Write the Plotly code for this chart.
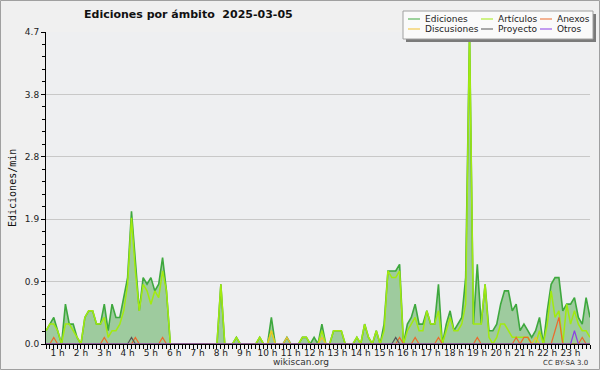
import plotly.graph_objects as go

# ---------------- data (10-minute steps, 00:30 .. 23:50, edits/min) ----------------
minutes = list(range(30, 24 * 60, 10))
times_h = [m / 60 for m in minutes]

ediciones = [
    0.2, 0.3, 0.4,                      # 00:30-00:50
    0.2, 0.0, 0.6, 0.3, 0.3, 0.1,       # 1 h
    0.0, 0.4, 0.5, 0.5, 0.3, 0.3,       # 2 h
    0.6, 0.2, 0.6, 0.4, 0.4, 0.7,       # 3 h
    1.0, 2.0, 1.3, 0.5, 1.0, 0.9,       # 4 h
    1.0, 0.8, 0.9, 1.3, 0.8, 0.0,       # 5 h
    0, 0, 0, 0, 0, 0,                   # 6 h
    0, 0, 0, 0, 0, 0,                   # 7 h
    0.9, 0, 0, 0, 0.1, 0,               # 8 h
    0, 0, 0, 0, 0.1, 0,                 # 9 h
    0, 0.4, 0, 0, 0, 0.1,               # 10 h
    0, 0, 0, 0.1, 0.1, 0,               # 11 h
    0.1, 0, 0.3, 0, 0, 0.2,             # 12 h
    0.2, 0.2, 0, 0, 0, 0.1,             # 13 h
    0, 0.3, 0.1, 0, 0.2, 0,             # 14 h
    0.3, 1.1, 1.1, 1.1, 1.2, 0,         # 15 h
    0.3, 0.4, 0.6, 0.3, 0.3, 0.5,       # 16 h
    0.3, 0.3, 0.9, 0, 0.3, 0.5,         # 17 h
    0.2, 0.3, 0.4, 1.0, 4.7, 0.3,       # 18 h
    1.2, 0.3, 0.9, 0.2, 0.2, 0.3,       # 19 h
    0.6, 0.8, 0.8, 0.5, 0.6, 0.2,       # 20 h
    0.3, 0.2, 0.1, 0.2, 0.4, 0.0,       # 21 h
    0.5, 0.9, 1.0, 1.0, 0.5, 0.6,       # 22 h
    0.6, 0.7, 0.4, 0.3, 0.7, 0.4,       # 23 h
]

articulos = [
    0.2, 0.3, 0.3,
    0.2, 0, 0.3, 0.3, 0.2, 0.1,
    0, 0.4, 0.5, 0.5, 0.3, 0.3,
    0.4, 0.1, 0.2, 0.2, 0.3, 0.5,
    0.9, 1.9, 1.1, 0.5, 0.9, 0.8,
    0.6, 0.8, 0.7, 1.1, 0.8, 0,
    0, 0, 0, 0, 0, 0,
    0, 0, 0, 0, 0, 0,
    0.9, 0, 0, 0, 0.1, 0,
    0, 0, 0, 0, 0.1, 0,
    0, 0.2, 0, 0, 0, 0,
    0, 0, 0, 0.1, 0.1, 0,
    0, 0, 0.2, 0, 0, 0.2,
    0.2, 0.2, 0, 0, 0, 0.1,
    0, 0.3, 0.1, 0, 0.2, 0,
    0.2, 1.1, 1.0, 1.0, 1.1, 0,
    0.2, 0.3, 0.4, 0.2, 0.2, 0.5,
    0.3, 0.3, 0.5, 0, 0.2, 0.4,
    0.2, 0.2, 0.3, 0.6, 4.7, 0.3,
    0.3, 0.3, 0.9, 0.1, 0, 0.1,
    0.3, 0.3, 0.2, 0.1, 0.1, 0.1,
    0.1, 0.1, 0, 0, 0.2, 0,
    0.3, 0.8, 0.4, 0.5, 0, 0.6,
    0.3, 0.5, 0.3, 0.2, 0.2, 0.1,
]

anexos = [
    0, 0, 0.1,
    0, 0, 0, 0, 0, 0,
    0, 0, 0, 0, 0, 0,
    0.1, 0, 0, 0, 0, 0,
    0, 0, 0.1, 0, 0, 0,
    0, 0, 0, 0.1, 0, 0,
    0, 0, 0, 0, 0, 0,
    0, 0, 0, 0, 0, 0,
    0, 0, 0, 0, 0, 0,
    0, 0, 0, 0, 0, 0,
    0, 0, 0, 0, 0, 0,
    0, 0, 0, 0, 0, 0,
    0, 0, 0, 0, 0, 0,
    0, 0, 0, 0, 0, 0,
    0, 0, 0, 0, 0, 0,
    0, 0, 0, 0, 0.1, 0,
    0, 0, 0.1, 0, 0, 0,
    0, 0, 0.1, 0, 0, 0,
    0, 0, 0, 0, 0, 0,
    0.1, 0, 0, 0, 0, 0,
    0, 0, 0, 0, 0.1, 0,
    0.1, 0.1, 0, 0, 0, 0,
    0, 0, 0.2, 0.4, 0, 0,
    0, 0, 0, 0.1, 0, 0,
]

discusiones = [0] * 3 + [0] * 54 + [
    0, 0.2, 0, 0, 0, 0.1,               # 10 h
    0, 0, 0, 0, 0, 0,                   # 11 h
    0, 0, 0.1, 0, 0, 0,                 # 12 h
] + [0] * 48 + [
    0, 0, 0, 0.1, 0, 0,                 # 21 h
] + [0] * 12

proyecto = [0] * 3 + [0] * 18 + [
    0, 0.1, 0, 0, 0, 0,                 # 4 h
] + [0] * 60 + [
    0, 0, 0, 0.1, 0, 0,                 # 15 h
] + [0] * 48

otros = [0] * 3 + [0] * 132 + [
    0, 0.2, 0, 0, 0, 0,                 # 23 h
]

y_tick_vals = [0, 0.94, 1.88, 2.82, 3.76, 4.7]
y_tick_text = ["0.0", "0.9", "1.9", "2.8", "3.8", "4.7"]

series = [
    ("Ediciones", ediciones, "#3ea83e"),
    ("Artículos", articulos, "#a2ea10"),
    ("Anexos", anexos, "#ec6a2c"),
    ("Discusiones", discusiones, "#f2c12e"),
    ("Proyecto", proyecto, "#555555"),
    ("Otros", otros, "#8a3ee6"),
]

# ---------------- figure ----------------
W, H = 600, 370
L, R, T, B = 46, 10, 32, 26
PW, PH = W - L - R, H - T - B


def px(x):
    return (x - L) / PW


def py(y):
    return (H - B - y) / PH


fig = go.Figure()

fig.add_trace(go.Scatter(
    x=times_h, y=ediciones, name="Ediciones", mode="lines",
    line=dict(color="#3ea83e", width=1.6), fill="tozeroy",
    fillcolor="#9ecb9e", showlegend=False, hoverinfo="skip"))
fig.add_trace(go.Scatter(
    x=times_h, y=articulos, name="Artículos", mode="lines",
    line=dict(color="#a2ea10", width=1.5), showlegend=False, hoverinfo="skip"))
for name, vals, col in series[2:]:
    fig.add_trace(go.Scatter(
        x=times_h, y=vals, name=name, mode="lines",
        line=dict(color=col, width=1.2), showlegend=False, hoverinfo="skip"))

x_ticks = times_h
x_text = [f"{m // 60} h" if m % 60 == 0 else "" for m in minutes]

minor_y = [i * 0.188 for i in range(26) if i % 5 != 0]

fig.update_layout(
    width=W, height=H,
    margin=dict(l=L, r=R, t=T, b=B),
    paper_bgcolor="#f0f0f0",
    plot_bgcolor="#eeeff1",
    font=dict(family="DejaVu Sans", size=9, color="#222"),
    xaxis=dict(
        range=[times_h[0], times_h[-1]],
        tickmode="array", tickvals=x_ticks, ticktext=x_text,
        ticks="outside", ticklen=4, tickcolor="#000", tickwidth=1,
        ticklabelstandoff=-4,
        showline=True, linecolor="#000", linewidth=1,
        showgrid=False, zeroline=False,
        tickfont=dict(family="DejaVu Sans", size=9, color="#222"),
    ),
    yaxis=dict(
        range=[0, 4.7],
        tickmode="array", tickvals=y_tick_vals, ticktext=y_tick_text,
        ticks="outside", ticklen=4, tickcolor="#000",
        showline=True, linecolor="#000", linewidth=1,
        showgrid=True, gridcolor="#c8c8c8", gridwidth=1, zeroline=False,
        tickfont=dict(family="DejaVu Sans", size=9, color="#222"),
        minor=dict(tickmode="array", tickvals=minor_y, ticks="outside",
                   ticklen=3, tickcolor="#000", showgrid=False),
    ),
)

shapes = []
# outer frame
shapes.append(dict(type="rect", xref="paper", yref="paper",
                   x0=px(0.5), x1=px(599.5), y0=py(0.5), y1=py(369.5),
                   line=dict(color="#a0a0a0", width=1), fillcolor="rgba(0,0,0,0)",
                   layer="below"))
# legend shadow + box
shapes.append(dict(type="rect", xref="paper", yref="paper",
                   x0=px(406), x1=px(596), y0=py(14), y1=py(42),
                   line=dict(width=0), fillcolor="#7a7a7a"))
shapes.append(dict(type="rect", xref="paper", yref="paper",
                   x0=px(403), x1=px(593), y0=py(11), y1=py(39),
                   line=dict(color="#a0a0a0", width=1), fillcolor="#fafafa"))

annotations = []
legend_pos = {
    "Ediciones": (408, 19), "Artículos": (481, 19), "Anexos": (540, 19),
    "Discusiones": (408, 29), "Proyecto": (481, 29), "Otros": (540, 29),
}
for name, vals, col in series:
    lx, ly = legend_pos[name]
    shapes.append(dict(type="line", xref="paper", yref="paper",
                       x0=px(lx), x1=px(lx + 12), y0=py(ly), y1=py(ly),
                       line=dict(color=col, width=1)))
    annotations.append(dict(text=name, xref="paper", yref="paper",
                            x=px(lx + 15), y=py(ly), xanchor="left", yanchor="middle",
                            showarrow=False,
                            font=dict(family="DejaVu Sans", size=9, color="#222")))

annotations += [
    dict(text="<b>Ediciones por ámbito \u00a02025-03-05</b>", xref="paper", yref="paper",
         x=px(188), y=py(15), xanchor="center", yanchor="middle", showarrow=False,
         font=dict(family="DejaVu Sans", size=11, color="#111")),
    dict(text="Ediciones/min", xref="paper", yref="paper", textangle=-90,
         x=px(12), y=py(188), xanchor="center", yanchor="middle", showarrow=False,
         font=dict(family="DejaVu Sans Mono", size=10, color="#111")),
    dict(text="wikiscan.org", xref="paper", yref="paper",
         x=px(301), y=py(362), xanchor="center", yanchor="middle", showarrow=False,
         font=dict(family="DejaVu Sans", size=9, color="#333")),
    dict(text="CC BY-SA 3.0", xref="paper", yref="paper",
         x=px(590), y=py(363), xanchor="right", yanchor="middle", showarrow=False,
         font=dict(family="DejaVu Sans", size=7, color="#333")),
]

fig.update_layout(shapes=shapes, annotations=annotations)

fig.write_html("out.html",
               config={"displayModeBar": False, "staticPlot": True},
               post_script="document.body.style.margin='0';"
                           "document.body.style.overflow='hidden';")
